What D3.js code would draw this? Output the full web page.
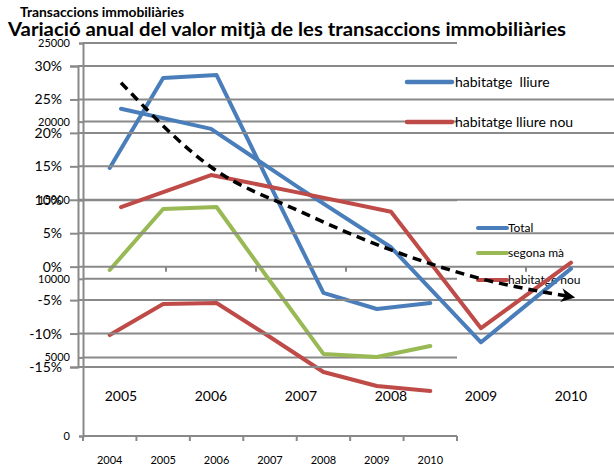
<!DOCTYPE html>
<html>
<head>
<meta charset="utf-8">
<script src="https://cdn.jsdelivr.net/npm/d3@7"></script>
<style>
  body { margin: 0; background: #fff; }
  text { font-family: Lato, "Noto Sans", sans-serif; fill: #000; }
</style>
</head>
<body>
<div id="chart"></div>
<script>
// back chart: values in euros, 2004-2010
var yearsA = ["2004", "2005", "2006", "2007", "2008", "2009", "2010"];
var seriesNamesA = ["Total", "segona mà", "habitatge nou"];
var totalA = [17050, 22770, 22960, 15970, 9100, 8080, 8460];
var segonaA = [10560, 14440, 14570, 9860, 5220, 5030, 5730];
var nouA = [6420, 8400, 8460, 6300, 4070, 3180, 2860];
var ticksA = [0, 5000, 10000, 15000, 20000, 25000];

// front chart: annual change in %, 2005-2010
var yearsB = ["2005", "2006", "2007", "2008", "2009", "2010"];
var seriesNamesB = ["habitatge  lliure", "habitatge lliure nou"];
var lliureB = [23.6, 20.6, 11.6, 2.9, -11.3, -0.3];
var lliureNouB = [8.9, 13.7, 11.0, 8.2, -9.2, 0.6];
var trendB = [27.5, 14.9, 8.2, 2.5, -1.8, -4.5];
var ticksB = [-15, -10, -5, 0, 5, 10, 15, 20, 25, 30];

var blue = "#4A7EBB", red = "#BE4B48", green = "#98B954", grid = "#898989";

var svgWidth = 614;
var svgHeight = 470;

var svg = d3.select("#chart")
  .append("svg")
  .attr("width", svgWidth)
  .attr("height", svgHeight);

svg.append("defs").append("marker")
  .attr("id", "arrow")
  .attr("viewBox", "0 0 10 10")
  .attr("refX", 7)
  .attr("refY", 5)
  .attr("markerWidth", 4)
  .attr("markerHeight", 4)
  .attr("orient", "auto")
  .attr("markerUnits", "strokeWidth")
  .append("path")
  .attr("d", "M0,0 L10,5 L0,10 L3,5 Z")
  .attr("fill", "#000");

// titles
svg.append("text")
  .attr("x", 20).attr("y", 17)
  .style("font-size", "12.5px").style("font-weight", "bold")
  .attr("textLength", 164).attr("lengthAdjust", "spacingAndGlyphs")
  .text("Transaccions immobiliàries");

svg.append("text")
  .attr("x", 8).attr("y", 36)
  .style("font-size", "18.5px").style("font-weight", "bold")
  .attr("textLength", 558).attr("lengthAdjust", "spacingAndGlyphs")
  .text("Variació anual del valor mitjà de les transaccions immobiliàries");

// ---------- back chart ----------
var xA = d3.scaleBand().domain(yearsA).range([83, 457]);
var yA = d3.scaleLinear().domain([0, 25000]).range([436, 43]);

var gA = svg.append("g");

gA.selectAll(".gridA")
  .data(ticksA.slice(1))
  .enter()
  .append("line")
  .attr("x1", 83).attr("x2", 457)
  .attr("y1", d => yA(d)).attr("y2", d => yA(d))
  .attr("stroke", grid).attr("stroke-width", 2);

var leftAxisA = d3.axisLeft(yA).tickValues(ticksA).tickSize(4).tickPadding(9)
  .tickFormat(d3.format("d"));
gA.append("g")
  .attr("transform", "translate(83,0)")
  .call(leftAxisA)
  .call(g => g.selectAll("path, line").attr("stroke", grid).attr("stroke-width", 2))
  .call(g => g.selectAll("text").style("font-size", "11px").style("font-family", "Lato, sans-serif"));

// x axis with ticks between categories
gA.append("line")
  .attr("x1", 83).attr("x2", 457)
  .attr("y1", yA(0)).attr("y2", yA(0))
  .attr("stroke", grid).attr("stroke-width", 2);
gA.selectAll(".tickA")
  .data(yearsA.concat(["end"]))
  .enter()
  .append("line")
  .attr("x1", (d, i) => 83 + i * xA.step())
  .attr("x2", (d, i) => 83 + i * xA.step())
  .attr("y1", yA(0)).attr("y2", yA(0) + 5)
  .attr("stroke", grid).attr("stroke-width", 2);
gA.selectAll(".labA")
  .data(yearsA)
  .enter()
  .append("text")
  .attr("x", d => xA(d) + xA.bandwidth() / 2)
  .attr("y", 464)
  .attr("text-anchor", "middle")
  .style("font-size", "11px")
  .text(d => d);

var lineA = d3.line()
  .x((d, i) => xA(yearsA[i]) + xA.bandwidth() / 2)
  .y(d => yA(d));

[[totalA, blue], [segonaA, green], [nouA, red]].forEach(function(s) {
  gA.append("path")
    .datum(s[0])
    .attr("d", lineA)
    .attr("fill", "none")
    .attr("stroke", s[1])
    .attr("stroke-width", 4)
    .attr("stroke-linejoin", "round")
    .attr("stroke-linecap", "round");
});

var legA = gA.selectAll(".legA")
  .data(seriesNamesA)
  .enter()
  .append("g")
  .attr("transform", (d, i) => `translate(478, ${[228, 253, 280][i]})`);
legA.append("line")
  .attr("x1", 0).attr("x2", 29)
  .attr("stroke", (d, i) => [blue, green, red][i])
  .attr("stroke-width", 4)
  .attr("stroke-linecap", "round");
legA.append("text")
  .attr("x", 30).attr("y", 4)
  .style("font-size", "12px")
  .text(d => d);

// ---------- front chart ----------
var xB = d3.scaleBand().domain(yearsB).range([76, 616]);
var yB = d3.scaleLinear().domain([-15, 30]).range([367, 66]);

var gB = svg.append("g");

gB.selectAll(".gridB")
  .data(ticksB)
  .enter()
  .append("line")
  .attr("x1", 78).attr("x2", svgWidth)
  .attr("y1", d => yB(d)).attr("y2", d => yB(d))
  .attr("stroke", grid).attr("stroke-width", 2);

var leftAxisB = d3.axisLeft(yB).tickValues(ticksB).tickSize(8).tickPadding(8)
  .tickFormat(d => d + "%");
gB.append("g")
  .attr("transform", "translate(78,0)")
  .call(leftAxisB)
  .call(g => g.selectAll("path, line").attr("stroke", grid).attr("stroke-width", 2))
  .call(g => g.selectAll("text").style("font-size", "14px").style("font-family", "Lato, sans-serif"));

gB.selectAll(".tickB")
  .data(yearsB)
  .enter()
  .append("line")
  .attr("x1", (d, i) => 76 + (i + 1) * xB.step())
  .attr("x2", (d, i) => 76 + (i + 1) * xB.step())
  .attr("y1", yB(0)).attr("y2", yB(0) + 5)
  .attr("stroke", grid).attr("stroke-width", 2);
gB.selectAll(".labB")
  .data(yearsB)
  .enter()
  .append("text")
  .attr("x", d => xB(d) + xB.bandwidth() / 2)
  .attr("y", 401)
  .attr("text-anchor", "middle")
  .style("font-size", "14px")
  .text(d => d);

var lineB = d3.line()
  .x((d, i) => xB(yearsB[i]) + xB.bandwidth() / 2)
  .y(d => yB(d));

[[lliureB, blue], [lliureNouB, red]].forEach(function(s) {
  gB.append("path")
    .datum(s[0])
    .attr("d", lineB)
    .attr("fill", "none")
    .attr("stroke", s[1])
    .attr("stroke-width", 4)
    .attr("stroke-linejoin", "round")
    .attr("stroke-linecap", "round");
});

// trend arrow
gB.append("path")
  .datum(trendB)
  .attr("d", lineB.curve(d3.curveMonotoneX))
  .attr("fill", "none")
  .attr("stroke", "#000")
  .attr("stroke-width", 3.5)
  .attr("stroke-dasharray", "9,6")
  .attr("marker-end", "url(#arrow)");

var legB = gB.selectAll(".legB")
  .data(seriesNamesB)
  .enter()
  .append("g")
  .attr("transform", (d, i) => `translate(407, ${[82, 122][i]})`);
legB.append("line")
  .attr("x1", 0).attr("x2", 45)
  .attr("stroke", (d, i) => [blue, red][i])
  .attr("stroke-width", 4.5)
  .attr("stroke-linecap", "round");
legB.append("text")
  .attr("x", 48).attr("y", 5)
  .style("font-size", "14px")
  .style("white-space", "pre")
  .attr("xml:space", "preserve")
  .text(d => d);
</script>
</body>
</html>
